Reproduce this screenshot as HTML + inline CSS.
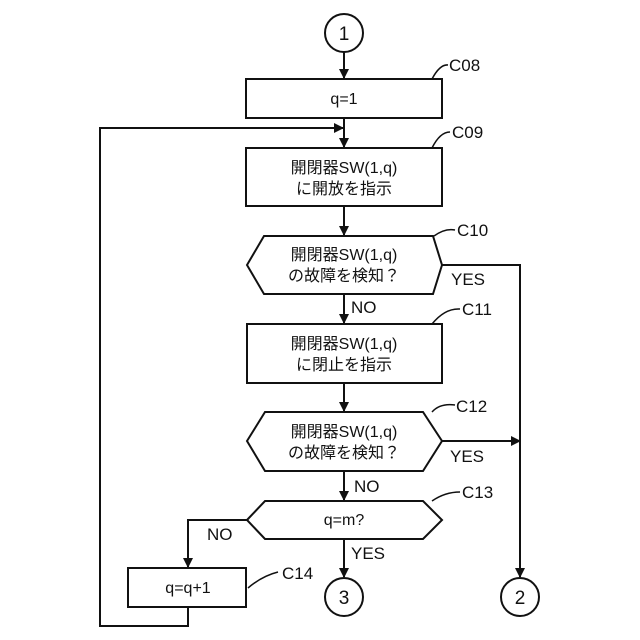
<!DOCTYPE html>
<html><head><meta charset="utf-8"><style>body{margin:0;background:#fff}svg{display:block}</style></head><body>
<svg width="640" height="640" viewBox="0 0 640 640" xmlns="http://www.w3.org/2000/svg" font-family="'Liberation Sans','Noto Sans CJK JP',sans-serif" font-size="16" fill="none" stroke="#111" stroke-width="2">
<defs><marker id="a" markerWidth="10" markerHeight="10" refX="9" refY="5" orient="auto" markerUnits="userSpaceOnUse"><path d="M0,0 L10,5 L0,10z" fill="#111" stroke="none"/></marker></defs>
<circle cx="344" cy="33" r="19"/>
<line x1="344" y1="52" x2="344" y2="78" marker-end="url(#a)"/>
<rect x="246" y="79" width="196" height="39"/>
<line x1="344" y1="118" x2="344" y2="147" marker-end="url(#a)"/>
<rect x="246" y="148" width="196" height="58"/>
<line x1="344" y1="206" x2="344" y2="235" marker-end="url(#a)"/>
<polygon points="247,265 264,236 433,236 442,265 433,294 264,294"/>
<polyline points="442,265 520,265 520,577" marker-end="url(#a)"/>
<line x1="344" y1="294" x2="344" y2="323" marker-end="url(#a)"/>
<rect x="247" y="324" width="195" height="59"/>
<line x1="344" y1="383" x2="344" y2="411" marker-end="url(#a)"/>
<polygon points="247,441 265,412 423,412 442,441 423,471 265,471"/>
<line x1="442" y1="441" x2="520" y2="441" marker-end="url(#a)"/>
<line x1="344" y1="471" x2="344" y2="500" marker-end="url(#a)"/>
<polygon points="247,520 265,501 423,501 442,520 423,539 265,539"/>
<line x1="344" y1="539" x2="344" y2="577" marker-end="url(#a)"/>
<polyline points="247,520 188,520 188,567" marker-end="url(#a)"/>
<rect x="128" y="568" width="118" height="39"/>
<polyline points="188,607 188,626 100,626 100,128 343,128" marker-end="url(#a)"/>
<circle cx="344" cy="597" r="19"/>
<circle cx="520" cy="597" r="19"/>
<g stroke-width="1.5">
<path d="M432,79 Q440,64 448,65"/>
<path d="M432,148 Q440,132 450,132"/>
<path d="M434,236 Q445,228 455,230"/>
<path d="M432,324 Q445,308 460,309"/>
<path d="M432,412 Q440,403 455,405"/>
<path d="M432,501 Q445,492 460,492"/>
<path d="M248,588 Q262,576 278,572"/>
</g>
<g fill="#111" stroke="none" text-anchor="middle">
<text x="344" y="40" font-size="19">1</text>
<text x="344" y="604" font-size="19">3</text>
<text x="520" y="604" font-size="19">2</text>
<text x="344" y="104">q=1</text>
<text x="344" y="173">開閉器SW(1,q)</text>
<text x="344" y="194">に開放を指示</text>
<text x="344" y="260">開閉器SW(1,q)</text>
<text x="344" y="281">の故障を検知？</text>
<text x="344" y="349">開閉器SW(1,q)</text>
<text x="344" y="370">に閉止を指示</text>
<text x="344" y="437">開閉器SW(1,q)</text>
<text x="344" y="458">の故障を検知？</text>
<text x="344" y="525">q=m?</text>
<text x="188" y="593">q=q+1</text>
</g>
<g fill="#111" stroke="none" font-size="17">
<text x="449" y="71">C08</text>
<text x="452" y="138">C09</text>
<text x="457" y="236">C10</text>
<text x="462" y="315">C11</text>
<text x="456" y="412">C12</text>
<text x="462" y="498">C13</text>
<text x="282" y="579">C14</text>
<text x="451" y="285">YES</text>
<text x="450" y="462">YES</text>
<text x="351" y="313">NO</text>
<text x="354" y="492">NO</text>
<text x="207" y="540">NO</text>
<text x="351" y="559">YES</text>
</g>
</svg>
</body></html>
